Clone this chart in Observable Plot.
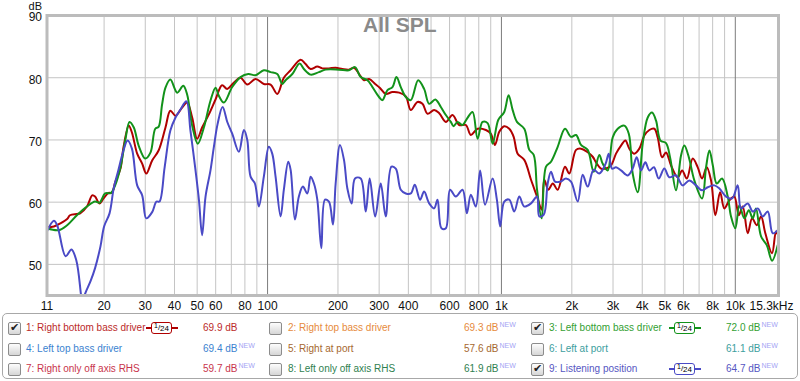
<!DOCTYPE html>
<html>
<head>
<meta charset="utf-8">
<script src="https://cdn.jsdelivr.net/npm/d3@7"></script>
<script src="https://cdn.jsdelivr.net/npm/@observablehq/plot@0.6"></script>
<style>
  html, body { margin: 0; padding: 0; background: #fff; }
  #wrap { position: relative; width: 800px; height: 381px; background: #fff; font-family: Arial, "Liberation Sans", sans-serif; overflow: hidden; }
  #legend { position: absolute; left: 2px; top: 313px; width: 794px; height: 64px; border: 1px solid #a8a8a8; border-radius: 5px; background: #fff; }
  .item { position: absolute; font-size: 10px; line-height: 14px; height: 14px; white-space: nowrap; }
  .cb { position: absolute; width: 11px; height: 11px; border: 1px solid #8c8c8c; border-radius: 2px; background: linear-gradient(#fdfdfd, #d6d6d6); }
  .cb span { position: absolute; left: 1px; top: -2px; font-size: 11px; color: #222; font-family: "DejaVu Sans", sans-serif; }
  .new { font-size: 7px; color: #a4a4f4; position: relative; top: -4px; margin-left: 1px; }
  .badge { position: absolute; height: 12px; }
  .badge .box { position: absolute; left: 5px; top: 0; width: 19px; height: 10px; border-width: 1.5px; border-style: solid; border-radius: 3px; background: #fff; font-size: 8px; line-height: 10px; color: #000; text-align: center; }
  .badge .ln { position: absolute; top: 5px; height: 1.5px; width: 6px; }
</style>
</head>
<body>
<div id="wrap"><div id="chart"></div><div id="legend"></div></div>
<script>
// ---- Data: Right bottom bass driver (trace 1) ----
const rightBottomHz = [11.4,12.2,13,13.9,14.3,15.3,15.8,16.9,17.8,18.3,19.1,19.9,20.9,21.6,22.3,23.5,24.2,25.5,26.3,27.7,29.1,30.3,32.1,34.2,36.6,38.4,40.4,43.1,45.3,47.6,50,52.5,56.1,59.9,63.9,67.2,71.7,76.6,81.9,88.8,96.4,103,110,117.4,125.5,138.5,145.4,152.8,163.2,171.4,183,195.5,208.8,222.9,234.2,250.2,258.5,271.7,288.5,301.7,320,342,365.2,390,409.7,437.7,459.6,483,515.5,541.8,578.5,617.7,659.8,704.6,740,790.7,858,901.6,938,979,1028,1080,1128,1173,1252,1338,1420,1486,1525,1587,1658,1740,1870,1950,2085,2189,2322,2456,2538,2665,2800,2941,3090,3246,3388,3522,3700,3887,4083,4290,4506,4659,4862,5055,5311,5673,5925,6205,6577,6908,7210,7548,7874,8215,8611,8976,9432,9905,10345,10760,11303,11800,12350,12885,13440,14360,14930,15300];
const rightBottomDb = [56.0,56.1,56.6,57.3,57.9,58.1,58.2,59.3,61.1,60.9,59.8,60.6,61.5,61.5,63.2,65.4,68.8,72.3,71.2,67.8,66.2,64.6,66.7,68.3,72.0,74.7,73.9,75.2,76.0,73.6,70.2,72.0,74.1,76.5,78.8,78.2,79.2,80.0,78.9,79.8,79.0,78.9,77.4,80.0,81.2,82.9,82.2,81.4,81.8,81.5,81.5,81.6,81.4,81.3,81.6,80.2,79.6,79.8,79.0,78.4,77.4,77.7,77.6,77.0,74.8,76.1,75.8,74.2,74.8,74.3,72.9,74.0,72.4,72.4,70.8,71.8,71.6,71.0,69.2,71.3,72.2,71.8,70.5,67.8,66.8,63.6,60.9,58.8,63.6,62.0,63.0,62.0,65.7,64.6,68.4,68.6,68.1,67.3,66.4,65.4,65.4,65.9,67.8,69.1,69.9,68.6,67.8,68.6,70.7,71.6,71.8,70.4,67.2,68.0,65.9,64.0,65.1,63.8,67.0,65.6,63.8,65.6,63.5,57.9,61.6,59.0,60.3,60.9,57.9,59.3,55.0,57.4,56.3,57.7,55.0,51.8,55.3,54.5];

// ---- Data: Left bottom bass driver (trace 3) ----
const leftBottomHz = [11.4,12.8,13.9,15.3,16.9,18.3,19.1,20.2,21.4,22.3,23.5,24.7,25.7,26.8,28.1,30.0,31.6,33.1,34.2,35.4,36.6,38.4,41.1,43.6,45.3,47.6,50.3,53.4,57.0,59.9,61.9,65.0,70.6,76.6,82.7,88.8,96.4,103,110,115.6,119.4,127.6,137.1,143,152.8,165.8,177.1,201.8,222.9,236.5,250.2,267.3,280.9,299.7,309.8,325.6,342,355.8,371.2,390,409.7,440.5,467.1,490.9,521.3,550.7,578.5,607.7,624,649.2,682,711.6,752.6,790.7,830.3,872.7,917,969,1028,1073,1117,1165,1252,1316,1374,1420,1486,1551,1629,1740,1870,1984,2085,2189,2338,2480,2622,2708,2847,2990,3142,3353,3504,3641,3826,4018,4222,4405,4582,4786,5055,5261,5578,5860,6054,6330,6680,7210,7497,7750,8015,8328,8780,9282,9588,10000,10410,10930,11420,11875,12260,12885,13630,14360,15190];
const leftBottomDb = [55.8,55.5,56.3,57.9,59.3,60.1,59.9,61.4,61.5,62.7,65.6,70.2,72.9,72.0,69.1,67.0,68.0,71.8,72.1,75.7,78.4,79.7,77.6,78.7,77.3,72.3,69.4,72.0,76.3,78.4,77.1,76.0,78.5,80.1,80.6,80.4,81.2,80.9,80.6,79.0,79.6,80.6,82.3,81.4,80.5,80.9,81.3,81.3,81.2,81.7,80.1,79.6,78.5,76.9,76.4,78.0,78.5,80.1,78.5,76.9,76.4,79.6,78.2,75.8,76.5,75.3,74.0,72.9,72.2,72.9,72.4,73.4,74.5,70.2,72.9,72.7,69.4,73.2,74.5,77.2,74.8,72.9,71.8,68.4,67.6,62.0,57.4,65.7,66.5,68.9,71.8,70.5,70.8,69.2,68.4,64.9,67.6,66.2,65.1,70.4,71.8,72.3,71.0,64.6,61.6,69.4,73.6,74.4,73.1,69.9,69.5,67.2,61.9,67.5,69.1,67.2,63.5,60.6,65.6,68.3,65.9,63.0,63.8,60.9,57.7,55.8,59.5,57.4,58.7,57.4,59.0,54.5,53.1,50.6,53.1];

// ---- Data: Listening position (trace 9) ----
const listeningHz = [11.4,12.2,12.6,13.7,14.5,15.2,15.9,16.1,16.6,17.5,18.3,19.3,20.0,21.1,22.0,23.0,24.2,25.2,26.3,27.7,29.1,30.3,32.1,33.5,34.5,36.3,38.4,40.4,42.4,45.0,46.8,49.2,50.9,52.5,54.3,57.0,58.9,61.1,64.2,67.4,70.6,75.4,79.2,81.9,84.6,88.3,91.8,96.4,101.3,104.7,108.2,113.7,117.4,122.6,125.5,130.9,136.1,141.6,147.9,152.8,157.9,163.2,169.8,176,183,190.4,195.5,204,212.2,219.4,229,236.5,250.2,262.9,273.3,288.5,304.7,320,338.6,353.4,371.2,390,409.7,426.2,449,467,491,515.5,533,554,578.5,603,638,682,711.6,740,777,811,851,917,956,988,1028,1080,1135,1192,1252,1338,1420,1452,1517,1577,1629,1695,1786,1888,1984,2119,2225,2338,2480,2622,2790,2876,2970,3090,3246,3467,3641,3788,3952,4124,4290,4490,4705,4972,5220,5578,5955,6360,6790,7210,7623,8134,8550,9130,9690,10240,10580,11300,11875,12473,13100,13764,14450,15190];
const listeningDb = [55.3,57.0,56.3,51.3,52.4,50.7,45.4,43.5,45.3,47.3,49.4,52.9,56.1,58.2,62.3,65.1,68.3,69.9,68.6,62.7,61.1,57.4,58.4,60.1,60.1,65.6,71.5,73.6,74.9,76.2,71.5,65.1,60.3,54.7,60.9,65.1,68.8,72.5,75.3,72.8,71.0,68.1,71.6,70.0,64.1,63.0,59.3,64.1,68.9,67.8,64.1,57.7,62.0,66.5,65.2,57.2,60.9,62.5,61.4,64.1,63.0,60.4,52.6,60.4,60.1,56.4,63.0,69.2,66.8,62.2,59.8,63.8,63.8,58.5,63.8,57.7,63.0,57.7,65.7,65.4,62.0,61.4,61.4,62.8,60.4,61.7,59.8,59.0,60.4,55.8,55.8,62.0,60.9,62.0,58.2,61.2,59.3,65.1,59.6,63.8,60.4,56.1,60.1,60.4,58.5,60.9,59.3,59.8,60.9,57.7,58.0,63.0,64.9,63.3,63.3,63.8,63.3,60.1,64.4,62.5,65.2,64.6,66.2,67.8,65.4,65.6,65.1,64.3,65.4,67.2,65.1,66.4,65.1,65.6,63.8,65.4,64.0,64.3,62.7,63.5,62.7,61.9,62.4,62.7,62.2,60.9,60.6,62.7,59.0,59.8,58.5,59.0,57.7,58.5,55.0,55.5];

// ---- Axes / ticks ----
const xTickValues = [11.4,20,30,40,50,60,80,100,200,300,400,600,800,1000,2000,3000,4000,5000,6000,8000,10000,15300];
const xTickLabels = ["11","20","30","40","50","60","80","100","200","300","400","600","800","1k","2k","3k","4k","5k","6k","8k","10k","15.3kHz"];
const xMinorGrid = [20,30,40,50,60,70,80,90,200,300,400,500,600,700,800,900,2000,3000,4000,5000,6000,7000,8000,9000];
const xMajorGrid = [100,1000,10000];
const yTicks = [50,60,70,80,90];
const yGrid = [50,60,70,80];

// ---- Legend ----
const legendNames = ["1: Right bottom bass driver","2: Right top bass driver","3: Left bottom bass driver","4: Left top bass driver","5: Right at port","6: Left at port","7: Right only off axis RHS","8: Left only off axis RHS","9: Listening position"];
const legendValues = ["69.9 dB","69.3 dB","72.0 dB","69.4 dB","57.6 dB","61.1 dB","59.7 dB","61.9 dB","64.7 dB"];
const legendNew = [false,true,true,true,true,true,true,true,true];
const legendChecked = [true,false,true,false,false,false,false,false,true];
const legendColors = ["#bb2a2a","#e68a3c","#33a033","#3a82d0","#a5672e","#3c9e9e","#c8344c","#2f7f50","#5656c2"];

const lineColors = {r: "#b00000", g: "#12921a", b: "#4a4ac6"};

const zip = (hz, db) => hz.map((f, i) => ({f, db: db[i]}));
const red = zip(rightBottomHz, rightBottomDb);
const green = zip(leftBottomHz, leftBottomDb);
const blue = zip(listeningHz, listeningDb);

const chart = Plot.plot({
  width: 800,
  height: 312,
  marginLeft: 46.5,
  marginRight: 22,
  marginTop: 15,
  marginBottom: 17,
  x: {type: "log", domain: [11.4, 15300], axis: null},
  y: {domain: [45, 90], axis: null},
  style: {fontFamily: "Arial, 'Liberation Sans', sans-serif", fontSize: "12px", background: "white", overflow: "visible"},
  marks: [
    Plot.ruleX(xMinorGrid, {stroke: "#c4c4c4", strokeWidth: 1}),
    Plot.ruleY(yGrid, {stroke: "#c4c4c4", strokeWidth: 1}),
    Plot.ruleX(xMajorGrid, {stroke: "#7c7c7c", strokeWidth: 1}),
    Plot.line(red, {x: "f", y: "db", stroke: lineColors.r, strokeWidth: 2, curve: "catmull-rom", clip: true}),
    Plot.line(green, {x: "f", y: "db", stroke: lineColors.g, strokeWidth: 2, curve: "catmull-rom", clip: true}),
    Plot.line(blue, {x: "f", y: "db", stroke: lineColors.b, strokeWidth: 2, curve: "catmull-rom", clip: true}),
    Plot.frame({stroke: "#bcbcbc", strokeWidth: 3}),
    Plot.text(yTicks, {y: d => d, frameAnchor: "left", textAnchor: "end", dx: -5, dy: 2, text: d => String(d), fill: "#111"}),
    Plot.text(xTickValues.slice(0, -1), {x: d => d, frameAnchor: "bottom", lineAnchor: "top", dy: 6, text: (d, i) => xTickLabels[i], fill: "#111"}),
    Plot.text(xTickValues.slice(-1), {x: d => d, frameAnchor: "bottom", lineAnchor: "top", dy: 6, dx: -7, text: () => xTickLabels[xTickLabels.length - 1], fill: "#111"}),
    Plot.text(["dB"], {frameAnchor: "top-left", textAnchor: "end", lineAnchor: "bottom", dx: -5, dy: -6, fontSize: 11, text: d => d, fill: "#111"}),
    Plot.text(["All SPL"], {frameAnchor: "top", lineAnchor: "top", dx: -13, dy: 2, text: d => d, fontSize: 21, fontWeight: "bold", fill: "#8a8a8a"})
  ]
});
document.getElementById("chart").appendChild(chart);

// Build legend (positions relative to the legend box at left 2, top 313)
const legend = document.getElementById("legend");
const colCb = [5, 266, 528];
const colLabel = [23, 285, 546];
const colValue = [200, 461, 723];
const colBadge = [143, null, 666];
const rowCenter = [14, 35, 55];
legendNames.forEach((name, i) => {
  const c = i % 3, r = Math.floor(i / 3);
  const cy = rowCenter[r];
  const cb = document.createElement("div");
  cb.className = "cb";
  cb.style.left = colCb[c] + "px";
  cb.style.top = (cy - 6) + "px";
  if (legendChecked[i]) cb.innerHTML = "<span>✔</span>";
  legend.appendChild(cb);

  const lab = document.createElement("div");
  lab.className = "item";
  lab.style.left = colLabel[c] + "px";
  lab.style.top = (cy - 7) + "px";
  lab.style.color = legendColors[i];
  lab.textContent = name;
  legend.appendChild(lab);

  const val = document.createElement("div");
  val.className = "item";
  val.style.left = colValue[c] + "px";
  val.style.top = (cy - 7) + "px";
  val.style.color = legendColors[i];
  val.innerHTML = legendValues[i] + (legendNew[i] ? '<span class="new">NEW</span>' : "");
  legend.appendChild(val);

  if (legendChecked[i] && colBadge[c] !== null) {
    const b = document.createElement("div");
    b.className = "badge";
    b.style.left = colBadge[c] + "px";
    b.style.top = (cy - 6) + "px";
    b.style.width = "32px";
    const col = i === 0 ? lineColors.r : (i === 2 ? lineColors.g : lineColors.b);
    b.innerHTML = `<div class="ln" style="left:0;background:${col}"></div>` +
      `<div class="box" style="border-color:${col}"><span style="position:relative;top:-2px;font-size:7px">1</span>/<span style="position:relative;top:1px">24</span></div>` +
      `<div class="ln" style="left:26px;background:${col}"></div>`;
    legend.appendChild(b);
  }
});
</script>
</body>
</html>
